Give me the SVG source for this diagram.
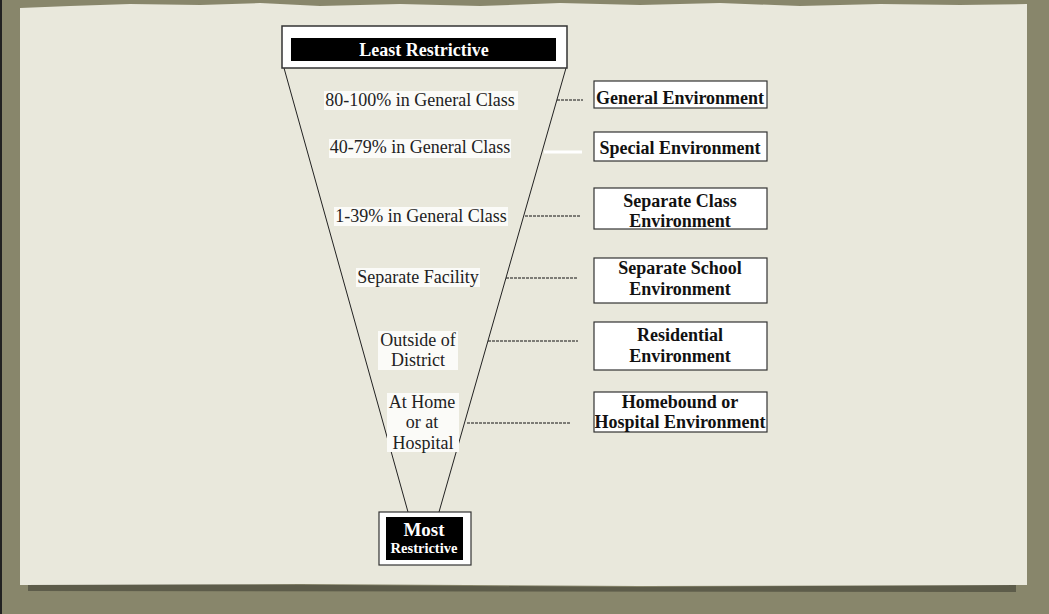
<svg xmlns="http://www.w3.org/2000/svg" width="1049" height="614" viewBox="0 0 1049 614">
<style>
.lt{font-family:"Liberation Serif",serif;font-size:18px;fill:#222;text-anchor:middle}
.bt{font-family:"Liberation Serif",serif;font-size:18px;font-weight:bold;fill:#111;text-anchor:middle}
.wt{font-family:"Liberation Serif",serif;font-weight:bold;fill:#fff;text-anchor:middle}
.box{fill:#fff;stroke:#333;stroke-width:1.2}
.dash{stroke:#111;stroke-width:1;stroke-dasharray:3,1;fill:none}
.hl{fill:#fbfbf8}
</style>
<rect x="0" y="0" width="1049" height="614" fill="#88866b"/>
<rect x="0" y="0" width="2" height="614" fill="#222"/>
<path d="M28,583 L340,585 L640,587 L1016,585 L1016,592 L28,591 Z" fill="#5d5c4a"/>
<path d="M20,8 L70,6 L130,4 L200,5 L260,3 L320,6 L400,4 L480,6 L560,3 L640,5 L720,3 L800,6 L880,4 L960,5 L1027,4 L1027,585 L640,586 L300,584 L20,585 Z" fill="#e9e8dc"/>
<g id="connectors">
<line x1="284" y1="68" x2="408" y2="512" stroke="#222" stroke-width="1"/>
<line x1="566" y1="68" x2="439" y2="512" stroke="#222" stroke-width="1"/>
<line class="dash" x1="557" y1="100" x2="583" y2="100"/>
<line x1="544" y1="152" x2="582" y2="152" stroke="#fff" stroke-width="3"/>
<line class="dash" x1="525" y1="216" x2="580" y2="216"/>
<line class="dash" x1="506" y1="278" x2="578" y2="278"/>
<line class="dash" x1="488" y1="341" x2="578" y2="341"/>
<line class="dash" x1="467" y1="423" x2="570" y2="423"/>
</g>
<g id="least">
<rect x="282" y="26" width="285" height="42" fill="#fff" stroke="#333" stroke-width="1.5"/>
<rect x="291" y="38" width="265" height="23" fill="#000"/>
<text class="wt" x="424" y="56" font-size="18">Least Restrictive</text>
</g>
<g id="most">
<rect x="379" y="512" width="92" height="53" fill="#fff" stroke="#333" stroke-width="1.2"/>
<rect x="386" y="517" width="77" height="43" fill="#000"/>
<text class="wt" x="424" y="536" font-size="19">Most</text>
<text class="wt" x="424" y="553" font-size="14.5">Restrictive</text>
</g>
<g id="l1"><rect class="hl" x="324" y="91" width="194" height="19"/><text class="lt" x="420" y="106">80-100% in General Class</text></g>
<g id="l2"><rect class="hl" x="329" y="139" width="182" height="19"/><text class="lt" x="420" y="153">40-79% in General Class</text></g>
<g id="l3"><rect class="hl" x="334" y="207" width="174" height="19"/><text class="lt" x="421" y="222">1-39% in General Class</text></g>
<g id="l4"><rect class="hl" x="356" y="268" width="124" height="19"/><text class="lt" x="418" y="283">Separate Facility</text></g>
<g id="l5"><rect class="hl" x="378" y="331" width="80" height="39"/><text class="lt" x="418" y="346">Outside of</text><text class="lt" x="418" y="366">District</text></g>
<g id="l6"><rect class="hl" x="387" y="393" width="72" height="59"/><text class="lt" x="422" y="408">At Home</text><text class="lt" x="422" y="428">or at</text><text class="lt" x="423" y="449">Hospital</text></g>
<g id="r1"><rect class="box" x="594" y="81" width="173" height="27"/><text class="bt" x="680" y="104">General Environment</text></g>
<g id="r2"><rect class="box" x="594" y="132" width="173" height="29"/><text class="bt" x="680" y="154">Special Environment</text></g>
<g id="r3"><rect class="box" x="594" y="188" width="173" height="41"/><text class="bt" x="680" y="207">Separate Class</text><text class="bt" x="680" y="227">Environment</text></g>
<g id="r4"><rect class="box" x="594" y="258" width="173" height="45"/><text class="bt" x="680" y="274">Separate School</text><text class="bt" x="680" y="295">Environment</text></g>
<g id="r5"><rect class="box" x="594" y="322" width="173" height="48"/><text class="bt" x="680" y="341">Residential</text><text class="bt" x="680" y="362">Environment</text></g>
<g id="r6"><rect class="box" x="594" y="392" width="173" height="40"/><text class="bt" x="680" y="408">Homebound or</text><text class="bt" x="680" y="428">Hospital Environment</text></g>
</svg>
